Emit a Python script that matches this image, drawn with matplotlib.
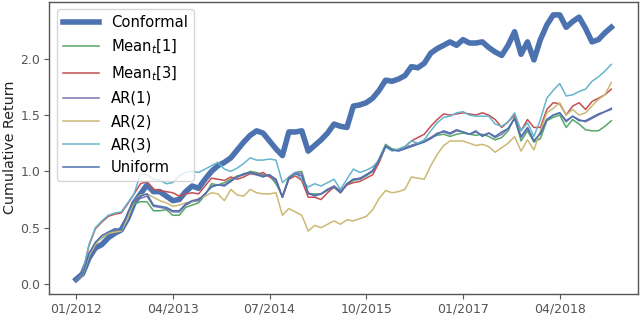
import matplotlib
matplotlib.use("Agg")
import matplotlib.pyplot as plt
import numpy as np

months = np.arange(84)  # monthly, 01/2012 .. 12/2018
tick_pos = [0, 15, 30, 45, 60, 75]
tick_labels = ["01/2012", "04/2013", "07/2014", "10/2015", "01/2017", "04/2018"]

conformal = [0.04, 0.09, 0.23, 0.32, 0.35, 0.41, 0.45, 0.48, 0.58, 0.72,
             0.80, 0.88, 0.82, 0.82, 0.78, 0.74, 0.75, 0.82, 0.87, 0.85,
             0.93, 1.00, 1.05, 1.08, 1.12, 1.19, 1.26, 1.32, 1.36, 1.34,
             1.27, 1.20, 1.14, 1.35, 1.35, 1.36, 1.18, 1.23, 1.28, 1.34,
             1.42, 1.40, 1.39, 1.58, 1.59, 1.61, 1.65, 1.72, 1.81, 1.80,
             1.82, 1.85, 1.93, 1.92, 1.96, 2.05, 2.09, 2.12, 2.15, 2.12,
             2.17, 2.14, 2.14, 2.15, 2.10, 2.06, 2.03, 2.12, 2.24, 2.04,
             2.15, 1.99, 2.17, 2.30, 2.39, 2.39, 2.28, 2.33, 2.37, 2.27,
             2.15, 2.17, 2.23, 2.28]
mean1 = [0.03, 0.08, 0.26, 0.36, 0.41, 0.45, 0.48, 0.48, 0.61, 0.71,
         0.73, 0.73, 0.65, 0.65, 0.66, 0.61, 0.61, 0.68, 0.70, 0.72,
         0.79, 0.89, 0.88, 0.90, 0.93, 0.96, 0.97, 1.00, 0.99, 0.97,
         0.96, 0.89, 0.78, 0.95, 0.99, 1.00, 0.80, 0.80, 0.80, 0.83,
         0.87, 0.83, 0.88, 0.92, 0.93, 0.96, 1.00, 1.11, 1.24, 1.20,
         1.19, 1.21, 1.23, 1.25, 1.27, 1.30, 1.32, 1.33, 1.31, 1.33,
         1.34, 1.33, 1.32, 1.33, 1.31, 1.28, 1.30, 1.36, 1.48, 1.27,
         1.36, 1.26, 1.29, 1.45, 1.48, 1.50, 1.39, 1.46, 1.42, 1.37,
         1.36, 1.36, 1.40, 1.45]
mean3 = [0.03, 0.09, 0.34, 0.49, 0.55, 0.60, 0.62, 0.63, 0.71, 0.80,
         0.89, 0.91, 0.84, 0.83, 0.82, 0.81, 0.78, 0.80, 0.81, 0.80,
         0.87, 0.94, 0.93, 0.92, 0.95, 0.93, 0.95, 0.98, 0.97, 0.99,
         0.95, 0.93, 0.77, 0.93, 0.96, 0.92, 0.77, 0.77, 0.75, 0.81,
         0.86, 0.81, 0.88, 0.90, 0.91, 0.94, 0.97, 1.08, 1.22, 1.19,
         1.19, 1.22, 1.27, 1.30, 1.33, 1.40, 1.46, 1.51, 1.50, 1.51,
         1.52, 1.51, 1.50, 1.52, 1.50, 1.46, 1.39, 1.44, 1.50, 1.36,
         1.46, 1.39, 1.39, 1.55, 1.61, 1.60, 1.50, 1.58, 1.61, 1.55,
         1.62, 1.65, 1.68, 1.73]
ar1 = [0.03, 0.08, 0.27, 0.36, 0.42, 0.46, 0.48, 0.48, 0.62, 0.73,
       0.76, 0.78, 0.69, 0.68, 0.67, 0.64, 0.64, 0.70, 0.73, 0.74,
       0.80, 0.87, 0.88, 0.88, 0.92, 0.95, 0.97, 0.99, 0.98, 0.96,
       0.97, 0.91, 0.77, 0.94, 0.99, 0.98, 0.80, 0.79, 0.80, 0.84,
       0.87, 0.82, 0.89, 0.93, 0.94, 0.97, 1.01, 1.11, 1.23, 1.19,
       1.19, 1.21, 1.23, 1.25, 1.27, 1.30, 1.34, 1.35, 1.33, 1.36,
       1.35, 1.33, 1.35, 1.32, 1.34, 1.30, 1.33, 1.38, 1.47, 1.30,
       1.38, 1.27, 1.33, 1.46, 1.50, 1.52, 1.44, 1.49, 1.46, 1.44,
       1.47, 1.50, 1.53, 1.55]
ar2 = [0.03, 0.07, 0.25, 0.35, 0.42, 0.45, 0.46, 0.47, 0.58, 0.74,
       0.79, 0.80, 0.77, 0.74, 0.72, 0.69, 0.70, 0.72, 0.73, 0.76,
       0.78, 0.81, 0.80, 0.74, 0.84, 0.79, 0.78, 0.84, 0.81, 0.80,
       0.80, 0.81, 0.61, 0.67, 0.64, 0.61, 0.47, 0.52, 0.50, 0.53,
       0.56, 0.53, 0.57, 0.56, 0.58, 0.60, 0.66, 0.76, 0.83, 0.81,
       0.82, 0.84, 0.95, 0.94, 0.93, 1.05, 1.15, 1.23, 1.27, 1.27,
       1.27, 1.25, 1.23, 1.24, 1.22, 1.17, 1.21, 1.25, 1.31, 1.18,
       1.28, 1.19, 1.36, 1.52, 1.56, 1.61, 1.50, 1.55, 1.50, 1.52,
       1.58, 1.64, 1.68, 1.79]
ar3 = [0.03, 0.09, 0.35, 0.50, 0.56, 0.61, 0.63, 0.64, 0.72, 0.80,
       0.98, 0.97, 0.93, 0.92, 0.89, 0.90, 0.96, 0.99, 1.00, 0.99,
       1.02, 1.05, 1.08, 1.02, 1.00, 1.03, 1.07, 1.12, 1.10, 1.10,
       1.11, 1.10, 0.90, 0.95, 0.99, 0.93, 0.86, 0.89, 0.87, 0.90,
       0.93, 0.84, 0.93, 1.02, 0.99, 1.01, 1.04, 1.10, 1.22, 1.18,
       1.20, 1.22, 1.27, 1.25, 1.28, 1.36, 1.43, 1.48, 1.49, 1.52,
       1.53, 1.50, 1.49, 1.49, 1.49, 1.42, 1.40, 1.44, 1.52, 1.36,
       1.43, 1.31, 1.46, 1.65, 1.72, 1.78, 1.67, 1.68, 1.71, 1.73,
       1.80, 1.84, 1.89, 1.95]
uniform = [0.03, 0.08, 0.27, 0.37, 0.43, 0.46, 0.49, 0.48, 0.63, 0.74,
           0.78, 0.80, 0.70, 0.69, 0.68, 0.65, 0.65, 0.71, 0.74, 0.75,
           0.80, 0.86, 0.88, 0.87, 0.91, 0.95, 0.98, 0.99, 0.97, 0.95,
           0.97, 0.93, 0.77, 0.94, 0.98, 0.96, 0.81, 0.78, 0.80, 0.84,
           0.86, 0.81, 0.89, 0.93, 0.93, 0.97, 1.00, 1.10, 1.22, 1.19,
           1.18, 1.20, 1.22, 1.24, 1.26, 1.29, 1.33, 1.36, 1.34, 1.37,
           1.35, 1.33, 1.36, 1.31, 1.34, 1.31, 1.35, 1.38, 1.47, 1.31,
           1.39, 1.27, 1.34, 1.46, 1.50, 1.52, 1.45, 1.49, 1.45, 1.45,
           1.48, 1.51, 1.53, 1.56]

series = [
    ("Conformal", conformal, "#4C72B0", 4.0),
    ("Mean$_t$[1]", mean1, "#55A868", 1.1),
    ("Mean$_t$[3]", mean3, "#C44E52", 1.1),
    ("AR(1)", ar1, "#8172B2", 1.1),
    ("AR(2)", ar2, "#CCB974", 1.1),
    ("AR(3)", ar3, "#64B5CD", 1.1),
    ("Uniform", uniform, "#4C72B0", 1.1),
]

plt.rcParams['font.family'] = ['DejaVu Sans']
fig = plt.figure(figsize=(6.4, 3.17), dpi=100)
ax = fig.add_axes([0.077, 0.073, 0.920, 0.922])

for name, vals, col, lw in series:
    ax.plot(months, vals, color=col, lw=lw, label=name)

ax.set_xticks(tick_pos)
ax.set_xticklabels(tick_labels, fontsize=9, color="#222222")
ax.set_yticks([0.0, 0.5, 1.0, 1.5, 2.0])
ax.tick_params(axis='y', labelsize=9, labelcolor="#222222")
ax.tick_params(colors="#555555", length=3.5, width=0.8, pad=3)
ax.set_ylabel("Cumulative Return", fontsize=10.3, color="#222222", labelpad=2)
for s in ax.spines.values():
    s.set_color("#555555")
    s.set_linewidth(1.0)

leg = ax.legend(loc="upper left", fontsize=10.6, frameon=True,
                borderaxespad=0.5, handlelength=2.5, labelspacing=0.55)
leg.get_frame().set_edgecolor("#cccccc")

fig.savefig("out.png", dpi=100)
